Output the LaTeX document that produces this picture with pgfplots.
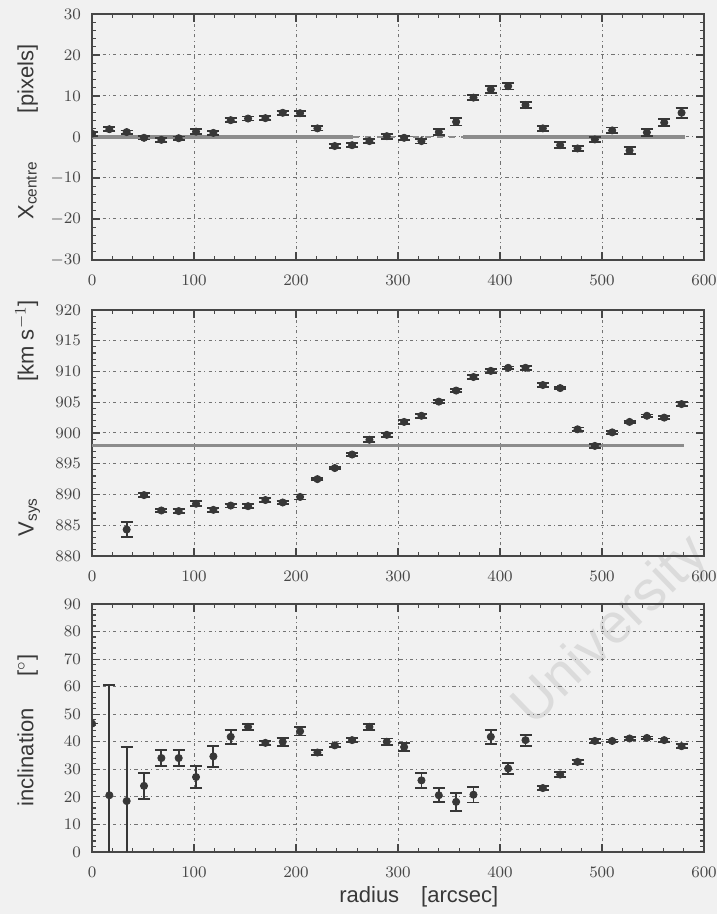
\documentclass[border=0pt]{standalone}
\usepackage{fontspec}
\usepackage{pgfplots}
\pgfplotsset{compat=1.18}
\usepackage{pgfplotstable}
\newfontfamily\labfont{Liberation Sans}
\definecolor{bg}{RGB}{241,241,241}
\definecolor{pts}{RGB}{55,55,55}
\definecolor{refl}{RGB}{140,140,140}

\pgfplotstableread{
x y e
0 0.8 0.5
17 1.9 0.5
34 1.2 0.4
51 -0.2 0.4
68 -0.7 0.5
85 -0.3 0.4
102 1.3 0.6
119 1.0 0.5
136 4.1 0.5
153 4.5 0.5
170 4.6 0.5
187 5.9 0.5
204 5.8 0.6
221 2.1 0.5
238 -2.2 0.5
255 -2.0 0.5
272 -1.0 0.5
289 0.2 0.6
306 -0.2 0.5
323 -1.0 0.6
340 1.2 0.8
357 3.7 0.9
374 9.6 0.6
391 11.6 0.8
408 12.4 0.8
425 7.8 0.7
442 2.1 0.6
459 -2.0 0.7
476 -2.8 0.7
493 -0.6 0.6
510 1.6 0.7
527 -3.3 0.9
544 1.1 0.8
561 3.5 0.9
578 5.9 1.2
}\xcen

\pgfplotstableread{
x y e
34 884.3 1.2
51 889.9 0.3
68 887.4 0.3
85 887.3 0.3
102 888.5 0.4
119 887.5 0.3
136 888.2 0.3
153 888.1 0.3
170 889.1 0.3
187 888.7 0.3
204 889.6 0.4
221 892.5 0.2
238 894.3 0.2
255 896.5 0.3
272 898.9 0.4
289 899.7 0.3
306 901.8 0.3
323 902.8 0.3
340 905.1 0.2
357 906.9 0.2
374 909.1 0.3
391 910.1 0.3
408 910.6 0.2
425 910.6 0.3
442 907.8 0.3
459 907.3 0.2
476 900.6 0.3
493 897.9 0.3
510 900.1 0.2
527 901.8 0.2
544 902.8 0.2
561 902.5 0.2
578 904.7 0.3
}\vsys

\pgfplotstableread{
x y e
0 46.6 0
17 20.6 40
34 18.5 19.6
51 24.0 4.8
68 34.1 3
85 34.1 3
102 27.2 4
119 34.7 3.8
136 41.8 2.5
153 45.4 1
170 39.6 0.8
187 40.0 1.5
204 43.8 1.5
221 36.1 1
238 38.7 0.7
255 40.6 0.7
272 45.4 1
289 40.0 1.2
306 38.1 1.5
323 26.0 2.7
340 20.6 2.5
357 18.2 3.2
374 20.8 2.8
391 41.8 2.6
408 30.3 2
425 40.6 2
442 23.2 0.8
459 28.1 0.8
476 32.7 0.8
493 40.3 0.8
510 40.3 0.5
527 41.2 0.6
544 41.4 0.5
561 40.6 0.6
578 38.4 0.8
}\incl

\pgfplotsset{
  myax/.style={
    scale only axis, width=306pt, anchor=south west,
    xmin=0, xmax=600, xtick={0,100,...,600},
    minor x tick num=4, minor y tick num=4,
    grid=major,
    major grid style={dash pattern=on 1.6pt off 1.6pt on 0.5pt off 1.6pt, black!55, line width=0.5pt},
    axis line style={line width=1pt, black!72},
    every tick/.style={black!72, line width=0.6pt},
    major tick length=4pt, minor tick length=2pt,
    tick label style={font=\fontsize{8.5}{9}\selectfont, text=black!72},
    yticklabel style={xshift=-2pt},
    xticklabel style={yshift=-4pt},
    label style={font=\labfont\fontsize{11}{12}\selectfont, text=black!78},
    clip marker paths=true,
  },
  mypts/.style={pts, mark=*, mark size=1.8pt, only marks,
    error bars/.cd, y dir=both, y explicit,
    error bar style={pts, line width=0.9pt},
    error mark options={rotate=90, mark size=3pt, pts, line width=0.9pt}},
}

\begin{document}
\begin{tikzpicture}
\fill[bg] (0,0) rectangle (358.5pt,457pt);
\node[rotate=44, text=black!14, font=\labfont\fontsize{28}{28}\selectfont] at (306pt,141pt) {University};

% top panel
\begin{axis}[myax, at={(46pt,327pt)}, height=123pt,
  ymin=-30, ymax=30, ytick={-30,-20,...,30},
  ylabel style={at={(axis description cs:-0.105,0.52)}, anchor=center},
  ylabel={X\textsubscript{centre}\hspace{24pt}[pixels]}]
\addplot[refl, line width=1.6pt] coordinates {(0,0) (256,0)};
\addplot[refl, line width=0.6pt, dashed] coordinates {(256,0) (364,0)};
\addplot[refl, line width=1.6pt] coordinates {(364,0) (581,0)};
\addplot[mypts] table[x=x, y=y, y error=e] {\xcen};
\end{axis}

% middle panel
\begin{axis}[myax, at={(46pt,179pt)}, height=123pt,
  ymin=880, ymax=920, ytick={880,885,...,920},
  ylabel style={at={(axis description cs:-0.105,0.56)}, anchor=center},
  ylabel={V\textsubscript{sys}\hspace{58pt}[km s$^{-1}$]}]
\addplot[refl, line width=1.6pt] coordinates {(0,898) (580,898)};
\addplot[mypts] table[x=x, y=y, y error=e] {\vsys};
\end{axis}

% bottom panel
\begin{axis}[myax, at={(46pt,31pt)}, height=124pt,
  ymin=0, ymax=90, ytick={0,10,...,90},
  ylabel style={at={(axis description cs:-0.105,0.49)}, anchor=center},
  ylabel={inclination\hspace{16pt}[$^\circ$]},
  xlabel={radius\quad [arcsec]},
  xlabel style={at={(axis description cs:0.534,-0.18)}, anchor=center}]
\addplot[mypts] table[x=x, y=y, y error=e] {\incl};
\end{axis}

\pgfresetboundingbox
\path[use as bounding box] (0,0) rectangle (358.5pt,457pt);
\end{tikzpicture}
\end{document}
